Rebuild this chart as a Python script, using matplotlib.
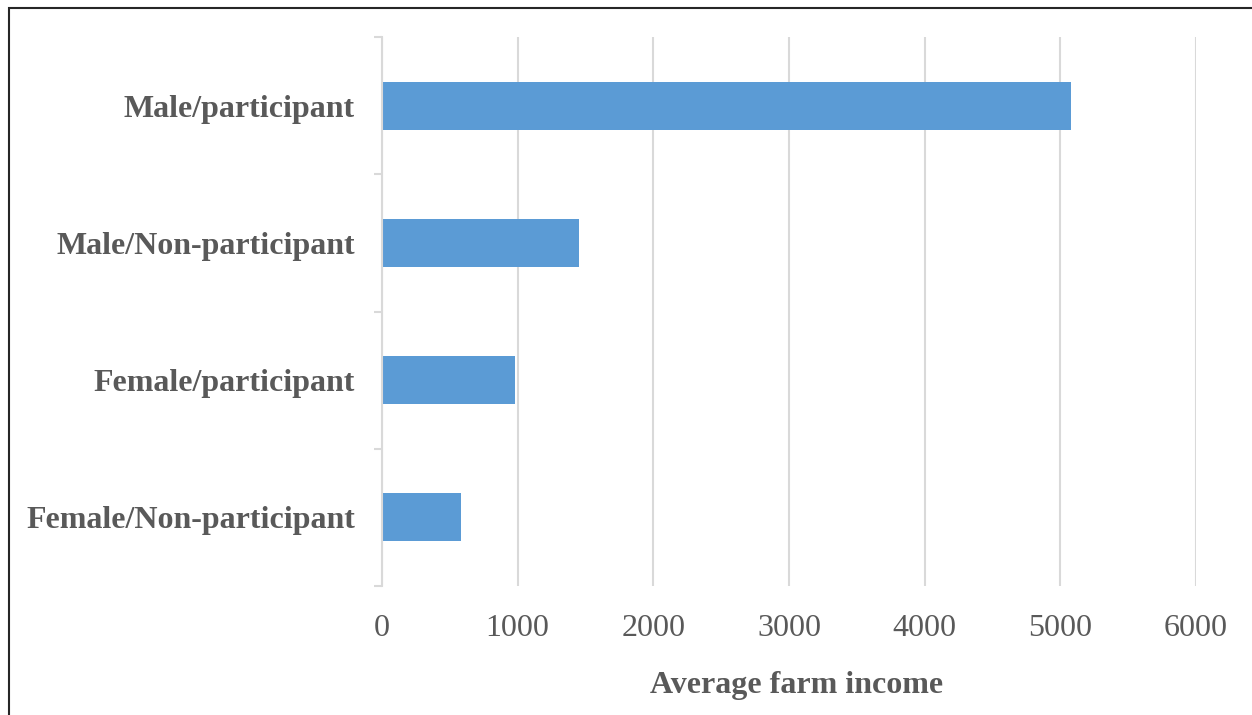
import matplotlib
matplotlib.use("Agg")
import matplotlib.pyplot as plt
from matplotlib.patches import Rectangle

categories = ["Male/participant", "Male/Non-participant",
              "Female/participant", "Female/Non-participant"]
income = [5080, 1450, 980, 585]
x_ticks = [0, 1000, 2000, 3000, 4000, 5000, 6000]

plt.rcParams["font.family"] = ["Liberation Serif", "DejaVu Serif"]

W, H = 1252, 715
fig = plt.figure(figsize=(W / 100, H / 100), dpi=100)
fig.patch.set_facecolor("white")

ax = fig.add_axes([382 / W, 1 - 586 / H, (1196 - 382) / W, (586 - 37) / H])

ypos = list(range(len(categories)))
ax.barh(ypos, income, height=0.35, color="#5B9BD5", zorder=3)

ax.set_xlim(0, 6000)
ax.set_ylim(len(categories) - 0.5, -0.5)

grid_c = "#D9D9D9"
ax.set_xticks(x_ticks)
ax.set_xticklabels([str(v) for v in x_ticks])
ax.xaxis.grid(True, color=grid_c, linewidth=1.5, zorder=0)
ax.tick_params(axis="x", length=0, pad=20.5, labelsize=23, labelcolor="#595959")

ax.set_yticks(ypos)
ax.set_yticklabels(categories, fontweight="bold")
ax.set_yticks([i - 0.5 for i in range(len(categories) + 1)], minor=True)
ax.tick_params(axis="y", which="major", length=0, pad=19.5, labelsize=23,
               labelcolor="#595959")
ax.tick_params(axis="y", which="minor", length=6, width=1.5, color=grid_c,
               direction="out")

for side in ("top", "right", "bottom"):
    ax.spines[side].set_visible(False)
ax.spines["left"].set_color(grid_c)
ax.spines["left"].set_linewidth(1.5)
ax.spines["left"].set_zorder(4)

ax.set_xlabel("Average farm income", fontsize=23, fontweight="bold",
              color="#595959", labelpad=20)
ax.xaxis.label.set_x(0.509)

# outer frame around the chart area
fig.patches.append(Rectangle((8.5 / W, -0.1), 1.2, 1.1 - 8.5 / H,
                             transform=fig.transFigure, fill=False,
                             edgecolor="#262626", linewidth=1.5))

fig.savefig("out.png", dpi=100, facecolor="white")
